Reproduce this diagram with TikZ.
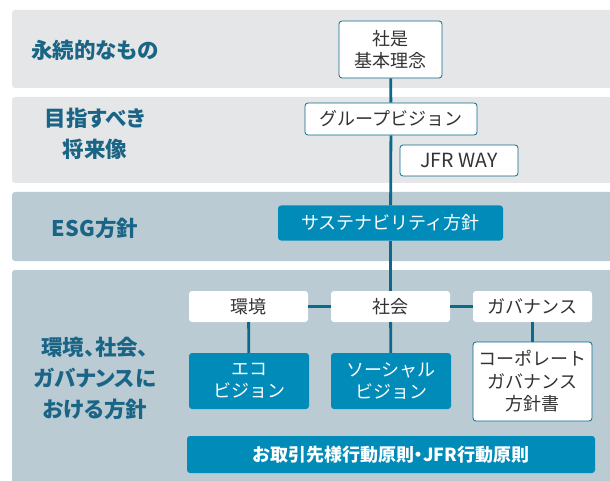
\documentclass[tikz,border=0pt]{standalone}
\usepackage{fontspec}
\setmainfont{Noto Sans CJK JP}
\newfontfamily\headfont[RawFeature=+palt]{Noto Sans CJK JP}
\definecolor{jfrgray}{HTML}{E5E6E8}
\definecolor{jfrslate}{HTML}{BACBD3}
\definecolor{jfrblue}{HTML}{008BB8}
\definecolor{jfrline}{HTML}{0B6A8C}
\definecolor{jfrteal}{HTML}{1A6585}
\definecolor{jfrtext}{HTML}{333333}
\usetikzlibrary{positioning}

\begin{document}
\begin{tikzpicture}[x=1pt, y=-1pt,
    lightbox/.style={fill=white, rounded corners=3pt, text=jfrtext, align=center, inner sep=0pt, font=\fontsize{18}{22.5}\selectfont},
    framebox/.style={lightbox, draw=jfrline, line width=0.8pt},
    bluebox/.style={fill=jfrblue, rounded corners=3pt, text=white, align=center, inner sep=0pt, font=\fontsize{18}{22.5}\selectfont},
    link/.style={jfrline, line width=2.8pt}]
  \useasboundingbox (0,0) rectangle (610,481);
  \clip (0,0) rectangle (610,481);
  \foreach \top/\bot/\col in {10/88/jfrgray, 97/183/jfrgray, 192/261/jfrslate, 270/500/jfrslate}
    \fill[\col, rounded corners=3pt] (12,\top) rectangle (620,\bot);
  \foreach \y/\txt [count=\i] in {50/{永続的なもの}, 134/{目指すべき\\将来像}, 228/{ESG方針}, 378/{環境、社会、\\ガバナンスに\\おける方針}}
    \node[text=jfrteal, font=\headfont\fontsize{21.5}{31}\selectfont\bfseries, align=center] (head\i) at (95,\y) {\txt};

  \node[framebox, minimum width=103pt, minimum height=57pt] (rinen) at (390.5,49.5) {社是\\基本理念};
  \node[framebox, minimum width=172pt, minimum height=32pt] (vision) at (391,119) {グループビジョン};
  \node[framebox, minimum width=118pt, minimum height=31pt, font=\fontsize{19.5}{22}\selectfont] (jfrway) at (459,160.5) {JFR WAY};
  \node[bluebox, minimum width=225pt, minimum height=35pt] (policy) at (390.5,223) {サステナビリティ方針};

  \node[lightbox, minimum width=119pt, minimum height=31pt] (kankyo) at (248.5,306.5) {環境};
  \node[lightbox, minimum width=119pt, minimum height=31pt] (shakai) at (390.5,306.5) {社会};
  \node[lightbox, minimum width=119pt, minimum height=31pt] (gov) at (532.5,306.5) {ガバナンス};
  \node[bluebox, minimum width=120pt, minimum height=56pt] (eco) at (249,381) {エコ\\ビジョン};
  \node[bluebox, minimum width=120pt, minimum height=56pt] (social) at (391,381) {ソーシャル\\ビジョン};
  \node[framebox, minimum width=119pt, minimum height=79pt] (cgcode) at (532.5,381.5) {コーポレート\\ガバナンス\\方針書};
  \node[bluebox, minimum width=408pt, minimum height=37pt, font=\headfont\fontsize{18}{22}\selectfont\bfseries] (conduct) at (391,454.5) {お取引先様行動原則・JFR行動原則};

  \draw[link] (rinen) -- (vision);
  \draw[link] (vision) -- (policy);
  \draw[link] (policy) -- (shakai);
  \draw[link] (kankyo) -- (shakai);
  \draw[link] (shakai) -- (gov);
  \draw[link] (kankyo) -- (eco);
  \draw[link] (shakai) -- (social);
  \draw[link] (gov) -- (cgcode);
\end{tikzpicture}
\end{document}
